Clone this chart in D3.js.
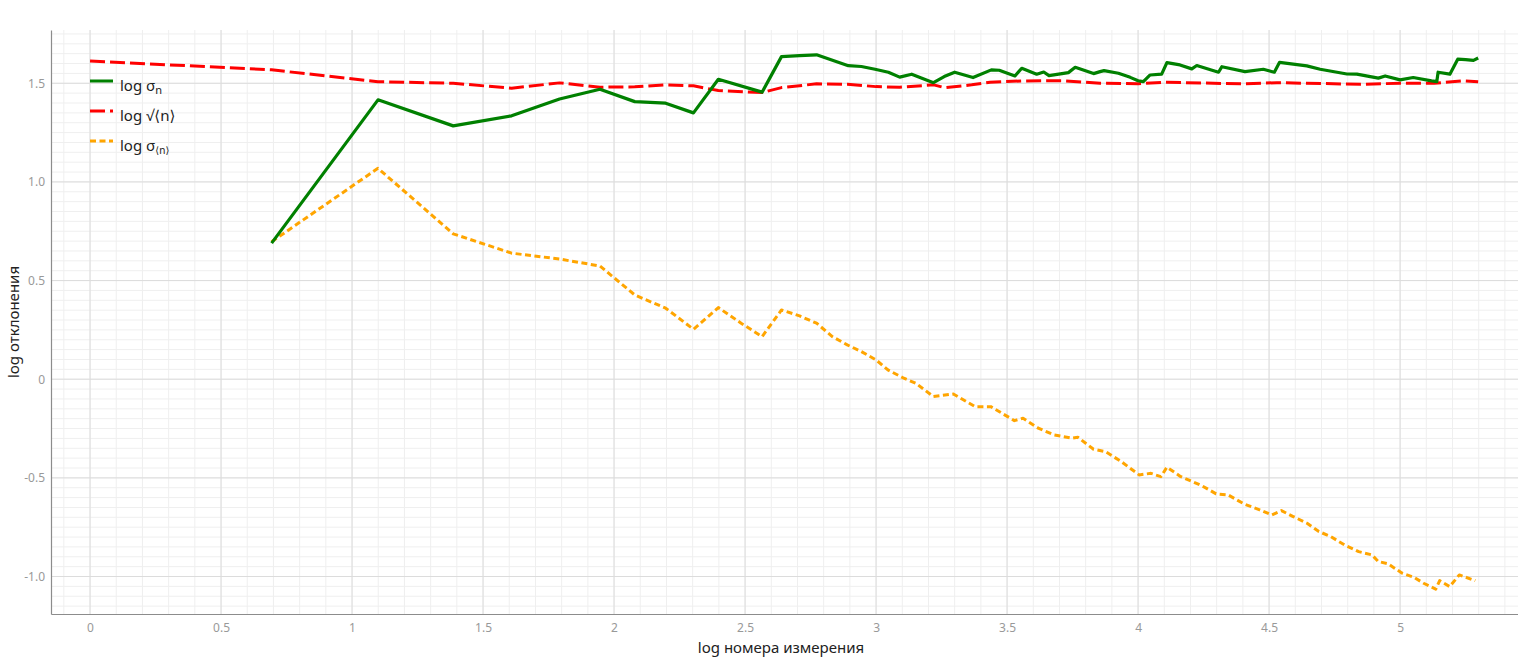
<!DOCTYPE html>
<meta charset="utf-8">
<head>
  <style>
    body {
    margin: 0;
    font-family: "Noto Sans", "Open Sans", sans-serif;
    background: #fff;
    }
    .grid-minor line { stroke: #efefef; stroke-width: 1; }
    .grid-major line { stroke: #dcdcdc; stroke-width: 1; }
    .tick-label { fill: #999; font-size: 12px; }
    .axis-title { fill: #222; font-size: 15px; }
    .legend text { fill: #222; font-size: 15px; }
    .ang { font-family: "DejaVu Sans", sans-serif; }
  </style>
</head>
<body>
  <div class="chart"></div>
  <script src="https://d3js.org/d3.v7.min.js"></script>
  <script>

      // log sigma_n
      var sigmaX = [0.693, 1.099, 1.386, 1.609, 1.792, 1.946, 2.079, 2.197, 2.303, 2.398, 2.565, 2.639, 2.708, 2.773,
        2.894, 2.944, 2.996, 3.047, 3.09, 3.136, 3.219, 3.26, 3.30, 3.37, 3.44, 3.47, 3.53, 3.556, 3.613, 3.64, 3.66,
        3.734, 3.76, 3.83, 3.855, 3.87, 3.925, 3.97, 4.0, 4.02, 4.046, 4.09, 4.11, 4.16, 4.205, 4.224, 4.307, 4.32,
        4.408, 4.478, 4.52, 4.54, 4.644, 4.695, 4.797, 4.835, 4.917, 4.943, 5.0, 5.05, 5.12, 5.14, 5.145, 5.19,
        5.22, 5.25, 5.28, 5.298];
      var sigmaY = [0.69, 1.416, 1.284, 1.335, 1.42, 1.47, 1.407, 1.399, 1.35, 1.52, 1.455, 1.635, 1.64, 1.644,
        1.589, 1.585, 1.571, 1.556, 1.531, 1.546, 1.503, 1.534, 1.556, 1.529, 1.568, 1.566, 1.537, 1.576, 1.546, 1.557, 1.539,
        1.554, 1.581, 1.549, 1.559, 1.564, 1.551, 1.53, 1.513, 1.508, 1.542, 1.546, 1.605, 1.593, 1.573, 1.59, 1.556, 1.584,
        1.559, 1.571, 1.556, 1.606, 1.588, 1.571, 1.547, 1.546, 1.526, 1.537, 1.517, 1.529, 1.512, 1.508, 1.556, 1.546,
        1.622, 1.62, 1.616, 1.628];

      // log sqrt<n>
      var sqrtX = [0, 0.693, 1.099, 1.386, 1.609, 1.792, 1.946, 2.079, 2.197, 2.303, 2.398, 2.565, 2.639, 2.773, 2.89,
        3.0, 3.09, 3.22, 3.26, 3.365, 3.435, 3.556, 3.715, 3.855, 4.0, 4.11, 4.40, 4.53, 4.85, 5.0, 5.13, 5.24, 5.298];
      var sqrtY = [1.613, 1.568, 1.508, 1.50, 1.475, 1.502, 1.48, 1.482, 1.492, 1.487, 1.463, 1.453, 1.478, 1.497, 1.495,
        1.483, 1.48, 1.492, 1.478, 1.492, 1.505, 1.512, 1.513, 1.50, 1.498, 1.505, 1.497, 1.503, 1.495, 1.50, 1.50, 1.513, 1.508];

      // log sigma_<n>
      var meanX = [0.693, 1.099, 1.386, 1.609, 1.792, 1.946, 2.079, 2.197, 2.303, 2.398, 2.485, 2.565, 2.639, 2.708,
        2.773, 2.833, 2.89, 2.944, 3.0, 3.045, 3.106, 3.151, 3.219, 3.295, 3.378, 3.438, 3.528, 3.561, 3.619, 3.679,
        3.747, 3.770, 3.830, 3.876, 3.936, 4.004, 4.049, 4.087, 4.110, 4.163, 4.207, 4.245, 4.298, 4.343, 4.404,
        4.464, 4.51, 4.547, 4.592, 4.645, 4.69, 4.736, 4.788, 4.842, 4.892, 4.917, 4.954, 5.008, 5.053, 5.09,
        5.136, 5.151, 5.189, 5.226, 5.287];
      var meanY = [0.697, 1.069, 0.737, 0.639, 0.609, 0.574, 0.427, 0.36, 0.253, 0.363, 0.284, 0.216, 0.351, 0.321,
        0.284, 0.216, 0.174, 0.14, 0.098, 0.047, 0.005, -0.02, -0.088, -0.075, -0.139, -0.139, -0.21, -0.198, -0.248, -0.282,
        -0.299, -0.294, -0.355, -0.367, -0.418, -0.485, -0.477, -0.494, -0.446, -0.494, -0.519, -0.541, -0.581, -0.586, -0.632,
        -0.662, -0.688, -0.666, -0.696, -0.730, -0.772, -0.798, -0.84, -0.874, -0.89, -0.924, -0.936, -0.983, -1.004, -1.034,
        -1.064, -1.021, -1.051, -0.992, -1.021];

      var xTicks = [0, 0.5, 1, 1.5, 2, 2.5, 3, 3.5, 4, 4.5, 5];
      var xTickLabels = ["0", "0.5", "1", "1.5", "2", "2.5", "3", "3.5", "4", "4.5", "5"];
      var yTicks = [1.5, 1.0, 0.5, 0, -0.5, -1.0];
      var yTickLabels = ["1.5", "1.0", "0.5", "0", "-0.5", "-1.0"];

      var series = [
        { name: "sigma", xs: sigmaX, ys: sigmaY, color: "#008000", dash: null },
        { name: "sqrt", xs: sqrtX, ys: sqrtY, color: "#ff0000", dash: "15,5" },
        { name: "mean", xs: meanX, ys: meanY, color: "#ffa500", dash: "6,3.5" }
      ];

      var W = 1518, H = 658;
      var margin = { top: 30, right: 0, bottom: 44, left: 51 };

      var x = d3.scaleLinear().domain([-0.149, 5.45]).range([margin.left, W - margin.right]);
      var y = d3.scaleLinear().domain([-1.19, 1.77]).range([H - margin.bottom, margin.top]);

      var svg = d3.select(".chart").append("svg")
          .attr("width", W)
          .attr("height", H);

      // minor grid
      var xMinor = d3.range(-1, 55).map(function(i) { return i / 10; });
      var yMinor = d3.range(-23, 36).map(function(i) { return i / 20; });

      var gMinor = svg.append("g").attr("class", "grid-minor");
      gMinor.selectAll(".vx").data(xMinor).enter().append("line")
          .attr("x1", function(d) { return x(d); }).attr("x2", function(d) { return x(d); })
          .attr("y1", y.range()[0]).attr("y2", y.range()[1]);
      gMinor.selectAll(".hy").data(yMinor).enter().append("line")
          .attr("y1", function(d) { return y(d); }).attr("y2", function(d) { return y(d); })
          .attr("x1", x.range()[0]).attr("x2", x.range()[1]);

      // major grid
      var gMajor = svg.append("g").attr("class", "grid-major");
      gMajor.selectAll(".vx").data(xTicks).enter().append("line")
          .attr("x1", function(d) { return x(d); }).attr("x2", function(d) { return x(d); })
          .attr("y1", y.range()[0]).attr("y2", y.range()[1]);
      gMajor.selectAll(".hy").data(yTicks).enter().append("line")
          .attr("y1", function(d) { return y(d); }).attr("y2", function(d) { return y(d); })
          .attr("x1", x.range()[0]).attr("x2", x.range()[1]);

      // axes (no tick marks, just the line and labels)
      var xAxis = d3.axisBottom(x).tickValues(xTicks).tickSize(0).tickPadding(9)
          .tickFormat(function(d, i) { return xTickLabels[i]; });
      var yAxis = d3.axisLeft(y).tickValues(yTicks).tickSize(0).tickPadding(6)
          .tickFormat(function(d, i) { return yTickLabels[i]; });

      var gx = svg.append("g")
          .attr("transform", "translate(0," + (H - margin.bottom) + ")")
          .call(xAxis);
      var gy = svg.append("g")
          .attr("transform", "translate(" + margin.left + ",0)")
          .call(yAxis);

      [gx, gy].forEach(function(g) {
        g.select(".domain").attr("stroke", "#8c8c8c").attr("stroke-width", 1.2);
        g.selectAll(".tick text").attr("class", "tick-label")
          .style("font-family", "'Noto Sans', 'Open Sans', sans-serif");
      });

      svg.append("text")
          .attr("class", "axis-title")
          .attr("x", 781)
          .attr("y", 653)
          .attr("text-anchor", "middle")
          .text("log номера измерения");

      svg.append("text")
          .attr("class", "axis-title")
          .attr("transform", "translate(19," + ((margin.top + H - margin.bottom) / 2) + ") rotate(-90)")
          .attr("text-anchor", "middle")
          .text("log отклонения");

      // lines
      var line = d3.line()
          .x(function(d) { return x(d[0]); })
          .y(function(d) { return y(d[1]); });

      // draw red first, then orange, green on top
      [series[1], series[2], series[0]].forEach(function(s) {
        var pts = s.xs.map(function(v, i) { return [v, s.ys[i]]; });
        svg.append("path")
            .datum(pts)
            .attr("fill", "none")
            .attr("stroke", s.color)
            .attr("stroke-width", s.dash ? 3 : 3.2)
            .attr("stroke-linejoin", "round")
            .attr("stroke-dasharray", s.dash)
            .attr("d", line);
      });

      // legend
      var legend = svg.append("g").attr("class", "legend");
      var rows = [81, 111, 141];
      series.forEach(function(s, i) {
        legend.append("line")
            .attr("x1", 90).attr("x2", 113)
            .attr("y1", rows[i]).attr("y2", rows[i])
            .attr("stroke", s.color)
            .attr("stroke-width", 3)
            .attr("stroke-dasharray", s.dash);
      });

      var t1 = legend.append("text").attr("x", 120).attr("y", rows[0] + 10);
      t1.append("tspan").text("log σ");
      t1.append("tspan").attr("dy", 3).style("font-size", "11px").text("n");

      var t2 = legend.append("text").attr("x", 120).attr("y", rows[1] + 10);
      t2.append("tspan").text("log √");
      t2.append("tspan").attr("class", "ang").text("⟨");
      t2.append("tspan").text("n");
      t2.append("tspan").attr("class", "ang").text("⟩");

      var t3 = legend.append("text").attr("x", 120).attr("y", rows[2] + 10);
      t3.append("tspan").text("log σ");
      var sub = t3.append("tspan").attr("dy", 3).style("font-size", "10px");
      sub.append("tspan").attr("class", "ang").text("⟨");
      sub.append("tspan").text("n");
      sub.append("tspan").attr("class", "ang").text("⟩");

  </script>
</body>
